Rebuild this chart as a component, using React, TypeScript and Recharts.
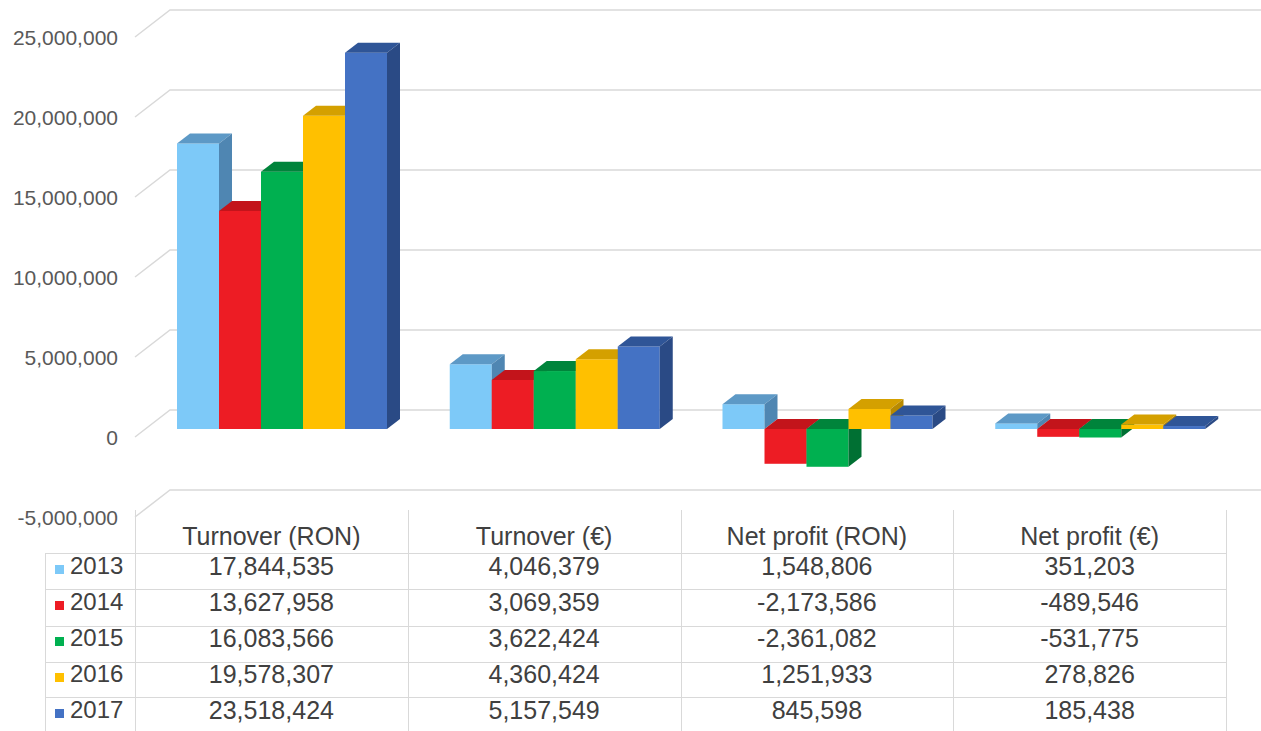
import { BarChart, Bar, XAxis, YAxis, CartesianGrid } from "recharts";

const categories = ["Turnover (RON)", "Turnover (€)", "Net profit (RON)", "Net profit (€)"];
const years = ["2013", "2014", "2015", "2016", "2017"];
const v2013 = [17844535, 4046379, 1548806, 351203];
const v2014 = [13627958, 3069359, -2173586, -489546];
const v2015 = [16083566, 3622424, -2361082, -531775];
const v2016 = [19578307, 4360424, 1251933, 278826];
const v2017 = [23518424, 5157549, 845598, 185438];
const yTicks = [-5000000, 0, 5000000, 10000000, 15000000, 20000000, 25000000];

const seriesValues = [v2013, v2014, v2015, v2016, v2017];

// front / top / side shades for the 3D columns
const palette = [
  { front: "#7DC9F8", top: "#5D99C6", side: "#4F86B2" },
  { front: "#ED1C24", top: "#C3141B", side: "#A8121A" },
  { front: "#00B050", top: "#00843B", side: "#007033" },
  { front: "#FFC000", top: "#D4A000", side: "#B88A00" },
  { front: "#4472C4", top: "#2F5597", side: "#2A4A85" },
];

const data = categories.map((name, i) => {
  const row: Record<string, string | number> = { name };
  years.forEach((y, s) => {
    row["y" + y] = seriesValues[s][i];
  });
  return row;
});

const FONT = "'Liberation Sans', Arial, sans-serif";
const W = 1261;
const H = 731;

// bar plane sits a bit behind the front edge of the floor
const PLANE_DX = 11;
const PLANE_DY = -8;
// column depth
const DEPTH_X = 13;
const DEPTH_Y = -10;

const makeShape = (idx: number) => (props: any) => {
  const { x, y, width, height } = props;
  if (x == null || y == null) return <g />;
  const top = Math.min(y, y + height) + PLANE_DY;
  const bottom = Math.max(y, y + height) + PLANE_DY;
  const left = x + PLANE_DX;
  const right = left + width;
  const c = palette[idx];
  return (
    <g>
      <rect x={left} y={top} width={width} height={Math.max(bottom - top, 0.5)} fill={c.front} />
      <polygon
        points={`${left},${top} ${left + DEPTH_X},${top + DEPTH_Y} ${right + DEPTH_X},${top + DEPTH_Y} ${right},${top}`}
        fill={c.top}
      />
      <polygon
        points={`${right},${top} ${right + DEPTH_X},${top + DEPTH_Y} ${right + DEPTH_X},${bottom + DEPTH_Y} ${right},${bottom}`}
        fill={c.side}
      />
    </g>
  );
};

const GridLine = (props: any) => {
  const { x1, y1 } = props;
  return (
    <polyline
      points={`${x1},${y1} ${x1 + 35},${y1 - 27} ${W},${y1 - 27}`}
      fill="none"
      stroke="#D9D9D9"
      strokeWidth={1.5}
    />
  );
};

const YTick = (props: any) => {
  const { y, payload } = props;
  return (
    <text x={118} y={y + 8} textAnchor="end" fontSize={21} fill="#595959" fontFamily={FONT}>
      {Number(payload.value).toLocaleString("en-US")}
    </text>
  );
};

const colEdges = [135, 407.75, 680.5, 953.25, 1226];
const rowLines = [553, 589, 626, 662, 697];
const rowBaselines = [575, 611, 647, 683, 719];

function DataTable() {
  const lineColor = "#D9D9D9";
  const text = { position: "absolute" as const, fontFamily: FONT, fontSize: 25, color: "#404040", lineHeight: "36px", height: 36, whiteSpace: "nowrap" as const };
  return (
    <div style={{ position: "absolute", left: 0, top: 0, width: W, height: H, pointerEvents: "none" }}>
      {colEdges.map((x) => (
        <div key={"v" + x} style={{ position: "absolute", left: x, top: 510, width: 1, height: H - 510, background: lineColor }} />
      ))}
      <div style={{ position: "absolute", left: 45, top: 553, width: 1, height: H - 553, background: lineColor }} />
      {rowLines.map((y) => (
        <div key={"h" + y} style={{ position: "absolute", left: 45, top: y, width: 1226 - 45, height: 1, background: lineColor }} />
      ))}
      {categories.map((c, i) => (
        <div key={c} style={{ ...text, left: colEdges[i], width: colEdges[i + 1] - colEdges[i], top: 545 - 27, textAlign: "center" }}>
          {c}
        </div>
      ))}
      {years.map((yr, s) => (
        <div key={yr}>
          <div style={{ position: "absolute", left: 55, top: rowBaselines[s] - 10, width: 9, height: 9, background: palette[s].front }} />
          <div style={{ ...text, left: 70, top: rowBaselines[s] - 27, fontSize: 24 }}>{yr}</div>
          {seriesValues[s].map((v, i) => (
            <div key={i} style={{ ...text, left: colEdges[i], width: colEdges[i + 1] - colEdges[i], top: rowBaselines[s] - 27, textAlign: "center" }}>
              {v.toLocaleString("en-US")}
            </div>
          ))}
        </div>
      ))}
    </div>
  );
}

export default function App() {
  return (
    <div style={{ position: "absolute", left: 0, top: 0, width: W, height: H, background: "#fff", overflow: "hidden" }}>
      <BarChart
        width={W}
        height={H}
        data={data}
        margin={{ top: 37, right: 35, left: 0, bottom: 214 }}
        barGap={0}
        barSize={42}
      >
        <CartesianGrid vertical={false} horizontal={GridLine} />
        <XAxis dataKey="name" hide />
        <YAxis
          width={135}
          domain={[-5000000, 25000000]}
          ticks={yTicks}
          axisLine={false}
          tickLine={false}
          tick={YTick}
          allowDataOverflow
        />
        {years.map((yr, s) => (
          <Bar key={yr} dataKey={"y" + yr} shape={makeShape(s)} isAnimationActive={false} />
        ))}
      </BarChart>
      <DataTable />
    </div>
  );
}
